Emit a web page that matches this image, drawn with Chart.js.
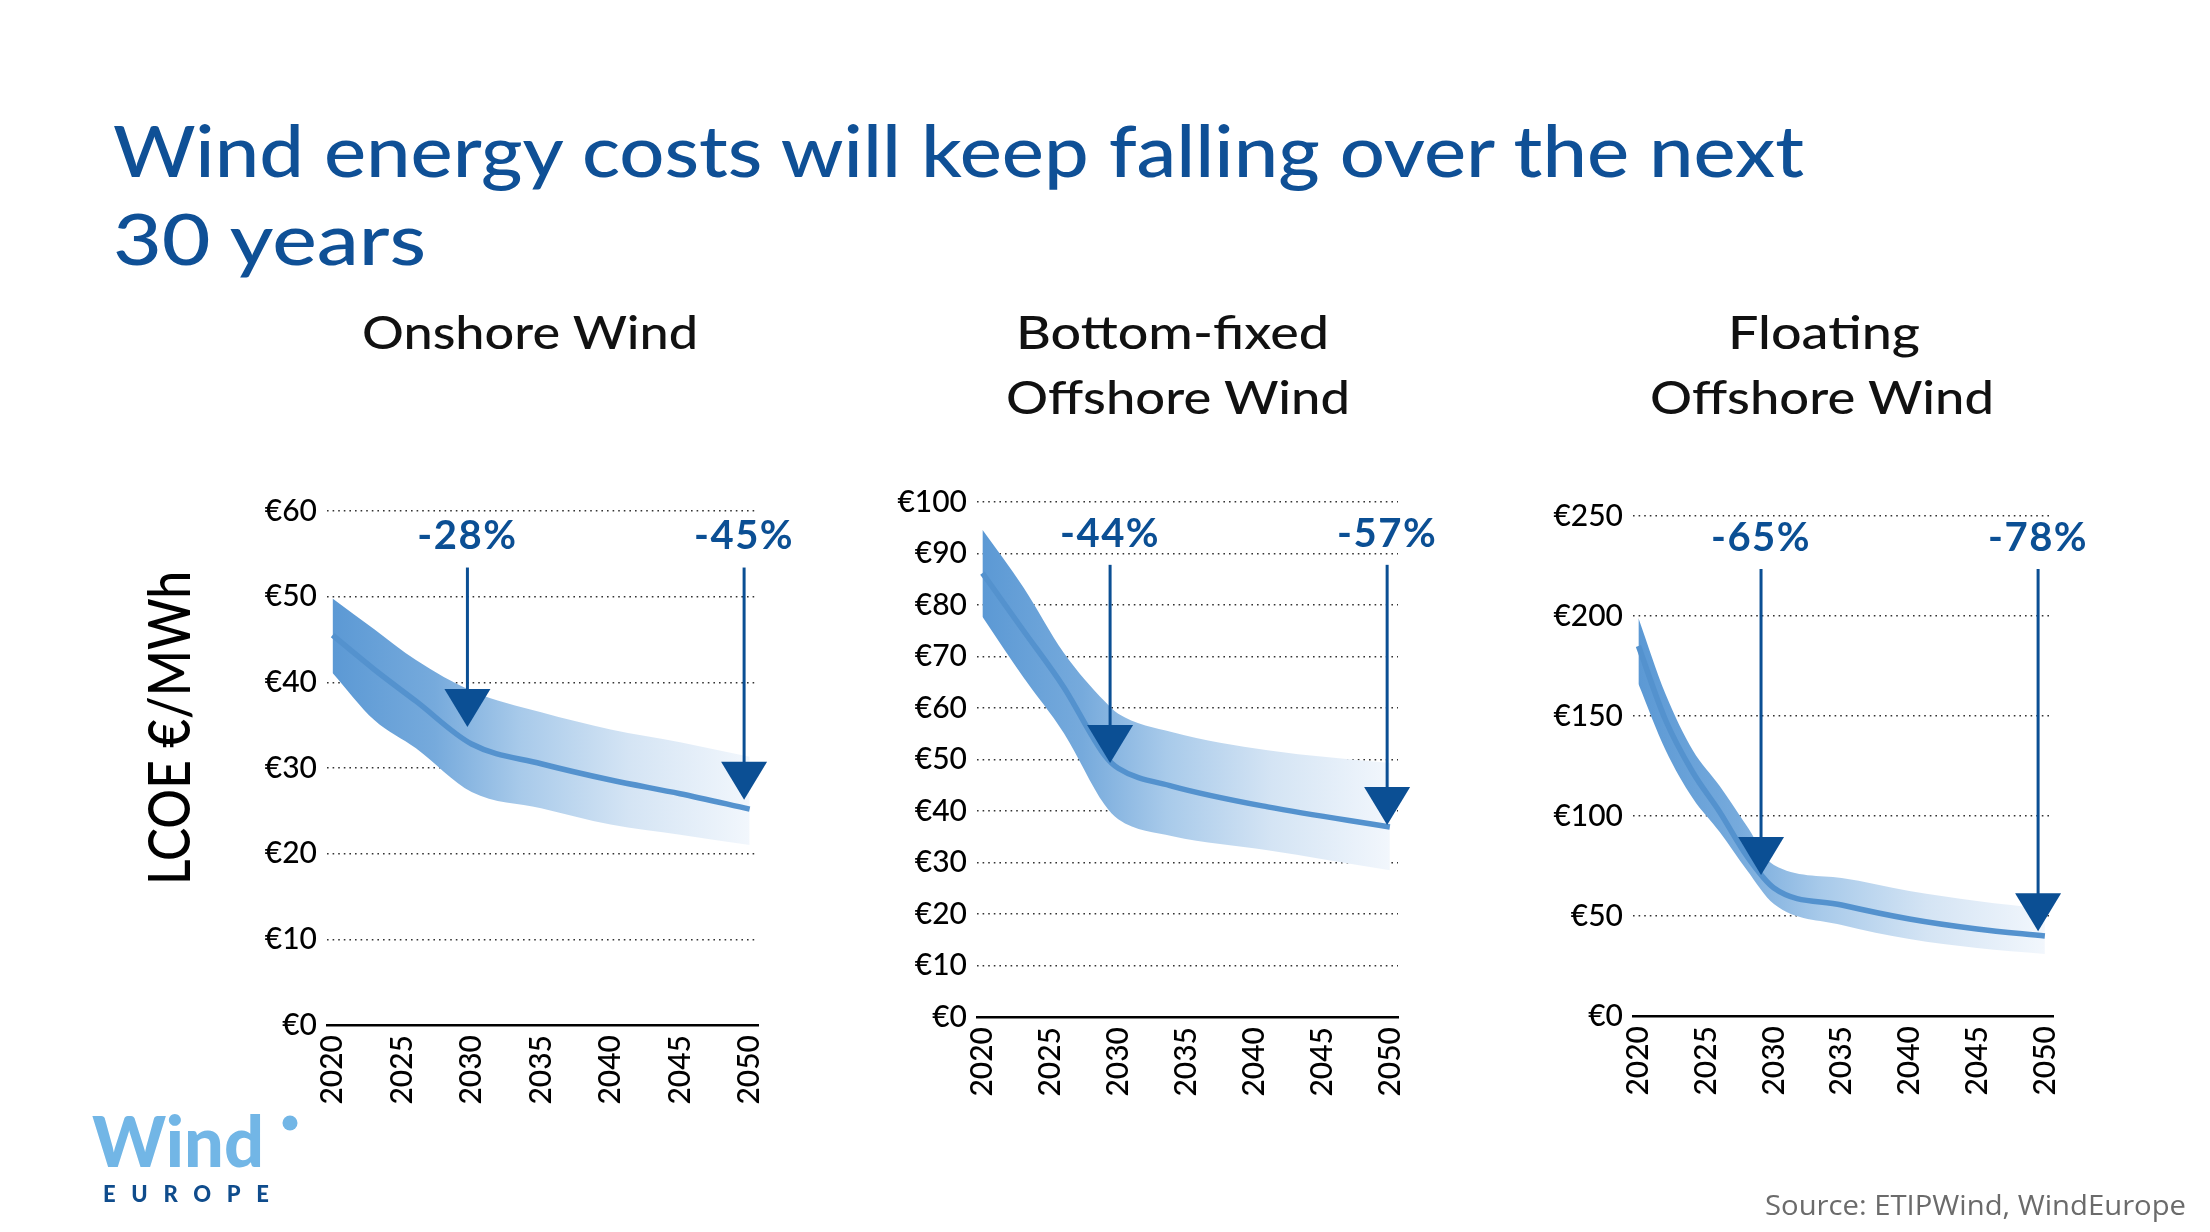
<!DOCTYPE html>
<html>
<head>
<meta charset="utf-8">
<script src="https://cdn.jsdelivr.net/npm/chart.js@4.4.1/dist/chart.umd.min.js"></script>
<style>
html,body{margin:0;padding:0;background:#fff;}
#page{position:relative;width:2210px;height:1232px;overflow:hidden;background:#fff;}
canvas{position:absolute;}
#overlay{position:absolute;left:0;top:0;pointer-events:none;}
</style>
</head>
<body>
<div id="page">
<canvas id="c1" width="650" height="660" style="left:190px;top:460px;width:650px;height:660px"></canvas>
<canvas id="c2" width="600" height="670" style="left:870px;top:450px;width:600px;height:670px"></canvas>
<canvas id="c3" width="640" height="660" style="left:1520px;top:460px;width:640px;height:660px"></canvas>
<svg id="overlay" width="2210" height="1232" xmlns="http://www.w3.org/2000/svg">
  <g font-family="Lato, sans-serif" fill="#0f5096" font-weight="500">
    <text x="113" y="177" font-size="72" textLength="1691" lengthAdjust="spacingAndGlyphs">Wind energy costs will keep falling over the next</text>
    <text x="113" y="265" font-size="72" textLength="313" lengthAdjust="spacingAndGlyphs">30 years</text>
  </g>
  <g font-family="Lato, sans-serif" fill="#111" font-weight="500" font-size="47">
    <text x="362" y="349" textLength="336" lengthAdjust="spacingAndGlyphs">Onshore Wind</text>
    <text x="1016" y="349" textLength="313" lengthAdjust="spacingAndGlyphs">Bottom-fixed</text>
    <text x="1006" y="414" textLength="344" lengthAdjust="spacingAndGlyphs">Offshore Wind</text>
    <text x="1728" y="349" textLength="192" lengthAdjust="spacingAndGlyphs">Floating</text>
    <text x="1650" y="414" textLength="344" lengthAdjust="spacingAndGlyphs">Offshore Wind</text>
  </g>
  <text transform="translate(190,885) rotate(-90)" x="0" y="0" font-family="Lato, sans-serif" font-size="58" font-weight="500" fill="#000" textLength="314" lengthAdjust="spacingAndGlyphs">LCOE €/MWh</text>
  <text x="92" y="1167" font-family="Lato, sans-serif" font-size="70" font-weight="900" fill="#72b6e6" textLength="172" lengthAdjust="spacingAndGlyphs">Wind</text>
  <circle cx="290" cy="1123" r="7.5" fill="#72b6e6"/>
  <text x="103" y="1202" font-family="Lato, sans-serif" font-size="22" font-weight="900" fill="#0f4c8c" textLength="166" lengthAdjust="spacing">EUROPE</text>
  <text x="1765" y="1215" font-family="'Open Sans', sans-serif" font-size="27" fill="#6b6b6b" textLength="421" lengthAdjust="spacingAndGlyphs">Source: ETIPWind, WindEurope</text>
</svg>
</div>
<script>
// ---------------- DATA ----------------
const xTickYears = [2020, 2025, 2030, 2035, 2040, 2045, 2050];

// Onshore Wind
const onshoreYears   = [2020, 2023, 2026, 2030, 2035, 2040, 2045, 2050];
const onshoreCentral = [45.5, 41.5, 37.8, 32.8, 30.5, 28.6, 27.0, 25.2];
const onshoreUpper   = [49.8, 46.2, 42.6, 39.0, 36.5, 34.5, 33.0, 31.3];
const onshoreLower   = [41.1, 35.6, 32.3, 27.2, 25.3, 23.4, 22.2, 21.0];
const onshoreYMax = 60, onshoreYStep = 10;
const onshoreArrowYears  = [2029.7, 2049.6];
const onshoreArrowTips   = [34.8, 26.3];
const onshoreArrowLabels = ['-28%', '-45%'];
const onshoreArrowTop = 53.4;

// Bottom-fixed Offshore Wind
const bottomYears   = [2020, 2023, 2026, 2029, 2030, 2034, 2041, 2050];
const bottomCentral = [86.2, 75.1, 64.0, 50.8, 48.3, 44.8, 40.8, 36.9];
const bottomUpper   = [94.6, 83.5, 70.7, 61.3, 58.9, 55.3, 51.8, 49.3];
const bottomLower   = [77.7, 66.0, 55.1, 41.2, 38.4, 35.1, 32.4, 28.5];
const bottomYMax = 100, bottomYStep = 10;
const bottomArrowYears  = [2029.4, 2049.8];
const bottomArrowTips   = [49.3, 37.3];
const bottomArrowLabels = ['-44%', '-57%'];
const bottomArrowTop = 87.8;

// Floating Offshore Wind
const floatYears   = [2020, 2022, 2024, 2026, 2028, 2030, 2035, 2040, 2045, 2050];
const floatCentral = [185, 148, 122, 102, 80, 64, 55.5, 48.5, 43.5, 40.0];
const floatUpper   = [199, 161, 133, 115, 95, 75.5, 69, 62.5, 57.5, 53.5];
const floatLower   = [166, 133, 109, 92, 73, 56, 45.5, 38.5, 34.0, 31.0];
const floatYMax = 250, floatYStep = 50;
const floatArrowYears  = [2029.05, 2049.5];
const floatArrowTips   = [70.5, 42.4];
const floatArrowLabels = ['-65%', '-78%'];
const floatArrowTop = 223.5;

// ---------------- STYLE ----------------
const ARROW_BLUE = '#0b4f94';
const LINE_BLUE = 'rgb(84,146,206)';
const TICK_FONT = {family: 'Lato, sans-serif', size: 30, weight: '500'};

function pts(xs, ys) { return xs.map((x, i) => ({x: x, y: ys[i]})); }

function bandFill(context) {
  const chart = context.chart;
  const area = chart.chartArea;
  if (!area) return 'rgba(120,170,220,0.6)';
  const g = chart.ctx.createLinearGradient(area.left, 0, area.right, 0);
  g.addColorStop(0.0, 'rgb(90,152,212)');
  g.addColorStop(0.25, 'rgb(118,170,220)');
  g.addColorStop(0.45, 'rgb(168,202,234)');
  g.addColorStop(0.7, 'rgb(212,228,244)');
  g.addColorStop(1.0, 'rgb(244,248,253)');
  return g;
}

const arrowPlugin = {
  id: 'arrows',
  afterDatasetsDraw(chart) {
    const a = chart.options.plugins.arrows;
    const xs = chart.scales.x, ys = chart.scales.y;
    const ctx = chart.ctx;
    ctx.save();
    const yTop = ys.getPixelForValue(a.top);
    for (let i = 0; i < a.years.length; i++) {
      const x = xs.getPixelForValue(a.years[i]);
      const yTip = ys.getPixelForValue(a.tips[i]);
      const triH = 38, triW = 46;
      ctx.strokeStyle = ARROW_BLUE;
      ctx.lineWidth = 3;
      ctx.beginPath();
      ctx.moveTo(x, yTop);
      ctx.lineTo(x, yTip - triH + 2);
      ctx.stroke();
      ctx.fillStyle = ARROW_BLUE;
      ctx.beginPath();
      ctx.moveTo(x - triW / 2, yTip - triH);
      ctx.lineTo(x + triW / 2, yTip - triH);
      ctx.lineTo(x, yTip);
      ctx.closePath();
      ctx.fill();
      ctx.font = 'bold 40px Lato, sans-serif';
      if ('letterSpacing' in ctx) ctx.letterSpacing = '1.5px';
      ctx.textAlign = 'center';
      ctx.textBaseline = 'middle';
      ctx.fillText(a.labels[i], x, yTop - 31);
    }
    ctx.restore();
  }
};

function makeChart(id, c) {
  return new Chart(document.getElementById(id), {
    type: 'line',
    data: {
      datasets: [
        {data: pts(c.years, c.upper), fill: '+1', backgroundColor: bandFill, borderWidth: 0, pointRadius: 0, cubicInterpolationMode: 'monotone', order: 2},
        {data: pts(c.years, c.lower), fill: false, borderWidth: 0, pointRadius: 0, cubicInterpolationMode: 'monotone', order: 1},
        {data: pts(c.years, c.central), fill: false, borderColor: LINE_BLUE, borderWidth: 5.5, pointRadius: 0, cubicInterpolationMode: 'monotone', borderCapStyle: 'butt', order: 0}
      ]
    },
    options: {
      responsive: false,
      animation: false,
      events: [],
      layout: {padding: {top: c.padTop, right: c.padRight, left: 0, bottom: 0}},
      plugins: {
        legend: {display: false},
        tooltip: {enabled: false},
        arrows: {years: c.arrowYears, tips: c.arrowTips, labels: c.arrowLabels, top: c.arrowTop}
      },
      scales: {
        x: {
          type: 'linear', min: 2019.6, max: 2050.6,
          afterBuildTicks: s => { s.ticks = xTickYears.map(v => ({value: v})); },
          ticks: {callback: v => String(v), minRotation: 90, maxRotation: 90, autoSkip: false, font: TICK_FONT, color: '#000', padding: 10},
          grid: {display: false, drawTicks: false},
          border: {display: true, color: '#000', width: 2.5},
          afterFit: s => { s.height = c.xAxisH; }
        },
        y: {
          min: 0, max: c.yMax,
          ticks: {stepSize: c.yStep, callback: v => '€' + v, font: TICK_FONT, color: '#000', padding: 10},
          grid: {color: '#333', lineWidth: 1.6, drawTicks: false},
          border: {display: false, dash: [1.6, 4]},
          afterFit: s => { s.width = c.yAxisW; }
        }
      }
    },
    plugins: [arrowPlugin]
  });
}

makeChart('c1', {
  years: onshoreYears, central: onshoreCentral, upper: onshoreUpper, lower: onshoreLower,
  yMax: onshoreYMax, yStep: onshoreYStep,
  arrowYears: onshoreArrowYears, arrowTips: onshoreArrowTips, arrowLabels: onshoreArrowLabels, arrowTop: onshoreArrowTop,
  padTop: 51, padRight: 82, yAxisW: 137, xAxisH: 95
});
makeChart('c2', {
  years: bottomYears, central: bottomCentral, upper: bottomUpper, lower: bottomLower,
  yMax: bottomYMax, yStep: bottomYStep,
  arrowYears: bottomArrowYears, arrowTips: bottomArrowTips, arrowLabels: bottomArrowLabels, arrowTop: bottomArrowTop,
  padTop: 52, padRight: 72, yAxisW: 107, xAxisH: 103
});
makeChart('c3', {
  years: floatYears, central: floatCentral, upper: floatUpper, lower: floatLower,
  yMax: floatYMax, yStep: floatYStep,
  arrowYears: floatArrowYears, arrowTips: floatArrowTips, arrowLabels: floatArrowLabels, arrowTop: floatArrowTop,
  padTop: 56, padRight: 107, yAxisW: 113, xAxisH: 104
});
</script>
</body>
</html>
